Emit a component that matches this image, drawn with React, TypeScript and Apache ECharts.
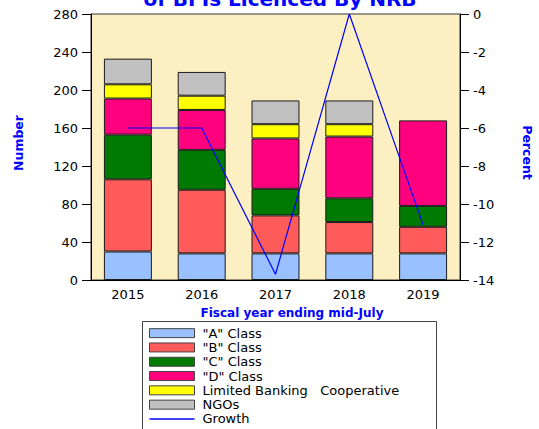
import React, { useEffect, useRef } from "react";
import * as echarts from "echarts";

const years = ["2015", "2016", "2017", "2018", "2019"];
const classA = [30, 28, 28, 28, 28];
const classB = [76, 67, 40, 33, 28];
const classC = [47, 42, 28, 25, 22];
const classD = [38, 42, 53, 65, 90];
const limitedBanking = [15, 15, 15, 13, 0];
const ngos = [27, 25, 25, 25, 0];
const growth = [-6.0, -6.0, -13.7, 0, -11.1];

const leftTicks = { min: 0, max: 280, interval: 40 };
const rightTicks = { min: -14, max: 0, interval: 2 };

const barSeries = [
  { name: '"A" Class', data: classA, color: "#99C0FF" },
  { name: '"B" Class', data: classB, color: "#FF5B5B" },
  { name: '"C" Class', data: classC, color: "#007A00" },
  { name: '"D" Class', data: classD, color: "#FF007F" },
  { name: "Limited Banking   Cooperative", data: limitedBanking, color: "#FFFF00" },
  { name: "NGOs", data: ngos, color: "#C0C0C0" },
];

const FONT = "DejaVu Sans";

export default function App() {
  const ref = useRef<HTMLDivElement>(null);
  useEffect(() => {
    if (!ref.current) return;
    const chart = echarts.init(ref.current, null, { renderer: "svg" });
    const series: any[] = barSeries.map((s) => ({
      name: s.name,
      type: "bar",
      stack: "total",
      barWidth: "65%",
      data: s.data.map((v) => (v === 0 ? null : v)),
      itemStyle: { color: s.color, borderColor: "#1a1a1a", borderWidth: 1 },
      emphasis: { disabled: true },
    }));
    series.push({
      name: "Growth",
      type: "line",
      yAxisIndex: 1,
      data: growth,
      symbol: "none",
      lineStyle: { color: "#0000FF", width: 1.2 },
      itemStyle: { color: "#0000FF" },
      z: 10,
    });
    chart.setOption({
      animation: false,
      backgroundColor: "#FFFFFF",
      textStyle: { fontFamily: FONT },
      grid: {
        left: 91,
        right: 79,
        top: 14,
        bottom: 149,
        show: true,
        backgroundColor: "#FCF0C3",
        borderColor: "#333",
        borderWidth: 1,
      },
      legend: {
        orient: "vertical",
        left: 149,
        top: 326,
        padding: 0,
        itemWidth: 45,
        itemHeight: 9,
        itemGap: 0,
        selectedMode: false,
        textStyle: {
          fontFamily: FONT,
          fontSize: 13,
          color: "#000",
          lineHeight: 14.3,
          padding: [0, 0, 0, 3],
        },
        data: [
          ...barSeries.map((s) => ({
            name: s.name,
            icon: "rect",
            itemStyle: { borderColor: "#444", borderWidth: 1 },
          })),
          {
            name: "Growth",
            icon: "path://M0 0H100V3H0Z",
            itemStyle: { color: "#0000FF", borderWidth: 0 },
          },
        ],
      },
      xAxis: {
        type: "category",
        data: years,
        axisLine: { lineStyle: { color: "#000", width: 1 } },
        axisTick: { length: 6, lineStyle: { color: "#000" } },
        axisLabel: { color: "#000", fontSize: 13, fontFamily: FONT, margin: 8 },
      },
      yAxis: [
        {
          type: "value",
          ...leftTicks,
          axisLine: { show: true, lineStyle: { color: "#000" } },
          axisTick: { show: true, length: 9, lineStyle: { color: "#000" } },
          axisLabel: { color: "#000", fontSize: 13, fontFamily: FONT, margin: 13 },
          splitLine: { show: false },
        },
        {
          type: "value",
          position: "right",
          ...rightTicks,
          axisLine: { show: true, lineStyle: { color: "#000" } },
          axisTick: { show: true, length: 9, lineStyle: { color: "#000" } },
          axisLabel: { color: "#000", fontSize: 13, fontFamily: FONT, margin: 13 },
          splitLine: { show: false },
        },
      ],
      graphic: [
        {
          type: "text",
          x: 280,
          y: -1,
          style: {
            text: "of BFIs Licenced By NRB",
            font: `bold 20px "${FONT}"`,
            fill: "#0000FF",
            textAlign: "center",
            textVerticalAlign: "middle",
          },
        },
        {
          type: "text",
          x: 292,
          y: 312.5,
          style: {
            text: "Fiscal year ending mid-July",
            font: `bold 12px "${FONT}"`,
            fill: "#0000FF",
            textAlign: "center",
            textVerticalAlign: "middle",
          },
        },
        {
          type: "text",
          x: 18,
          y: 143,
          rotation: Math.PI / 2,
          style: {
            text: "Number",
            font: `bold 12.5px "${FONT}"`,
            fill: "#0000FF",
            textAlign: "center",
            textVerticalAlign: "middle",
          },
        },
        {
          type: "text",
          x: 527,
          y: 152.5,
          rotation: -Math.PI / 2,
          style: {
            text: "Percent",
            font: `bold 12.5px "${FONT}"`,
            fill: "#0000FF",
            textAlign: "center",
            textVerticalAlign: "middle",
          },
        },
        {
          type: "rect",
          shape: { x: 142.5, y: 321.5, width: 294, height: 130 },
          style: { fill: "none", stroke: "#444", lineWidth: 1 },
          z: -1,
        },
      ],
      series,
    });
    return () => chart.dispose();
  }, []);
  return (
    <div
      ref={ref}
      style={{ position: "fixed", left: 0, top: 0, width: 539, height: 429 }}
    />
  );
}
